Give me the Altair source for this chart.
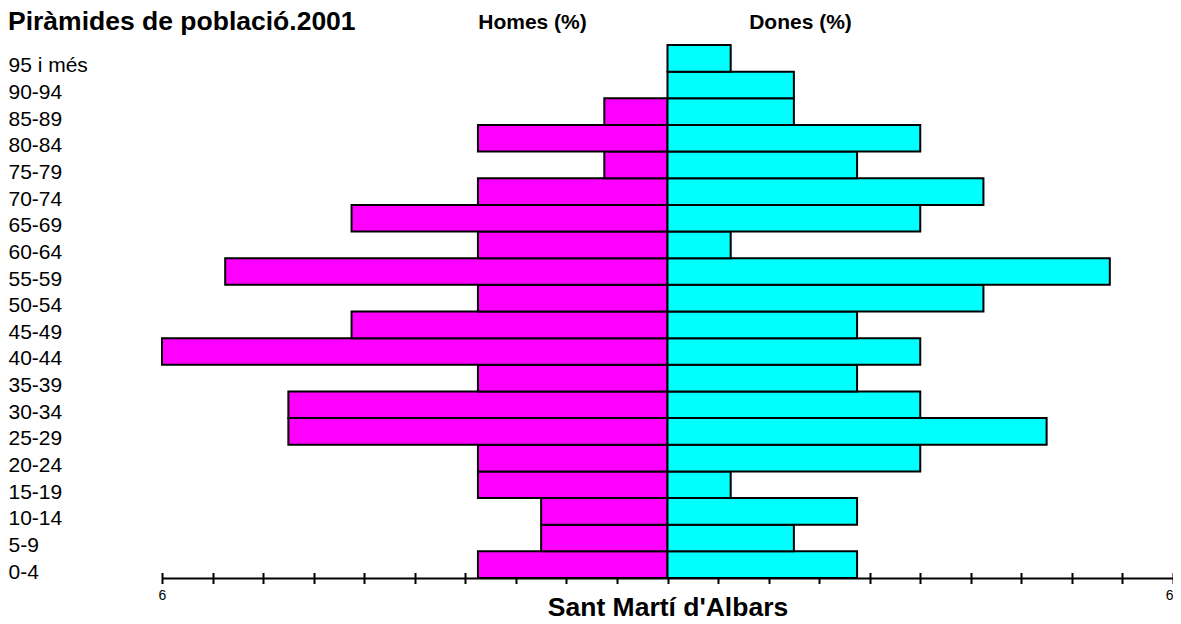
import altair as alt
import pandas as pd

ages = ["0-4", "5-9", "10-14", "15-19", "20-24", "25-29", "30-34", "35-39",
        "40-44", "45-49", "50-54", "55-59", "60-64", "65-69", "70-74",
        "75-79", "80-84", "85-89", "90-94", "95 i més"]
homes = [2.25, 1.5, 1.5, 2.25, 2.25, 4.5, 4.5, 2.25, 6.0, 3.75, 2.25, 5.25,
         2.25, 3.75, 2.25, 0.75, 2.25, 0.75, 0.0, 0.0]
dones = [2.25, 1.5, 2.25, 0.75, 3.0, 4.5, 3.0, 2.25, 3.0, 2.25, 3.75, 5.25,
         0.75, 3.0, 3.75, 2.25, 3.0, 1.5, 1.5, 0.75]
tick_values = [round(-6 + 0.6 * i, 2) for i in range(21)]

rows = []
for a, h, d in zip(ages, homes, dones):
    if h > 0:
        rows.append({"age": a, "sex": "Homes", "value": -h})
    if d > 0:
        rows.append({"age": a, "sex": "Dones", "value": d})
df = pd.DataFrame(rows)

FONT = "Liberation Sans"
W, H = 1011, 533

xscale = alt.Scale(domain=[-6, 6], nice=False, zero=True)
yenc = alt.Y("age:N", sort=ages[::-1],
             scale=alt.Scale(paddingInner=0, paddingOuter=0),
             axis=alt.Axis(title=None, domain=False, ticks=False, tickSize=0,
                           labelAlign="left", labelPadding=154,
                           labelOffset=8, labelFontSize=21, labelFont=FONT,
                           labelColor="black", labelBaseline="middle"))

bars = alt.Chart(df).mark_bar(stroke="black", strokeWidth=2).encode(
    x=alt.X("value:Q", scale=xscale,
            axis=alt.Axis(orient="bottom", values=tick_values,
                          labelExpr="abs(datum.value) > 5.99 ? '6' : ''",
                          labelAlign={"condition": {"test": "datum.value > 5.99", "value": "right"},
                                      "value": "center"},
                          ticks=False, grid=False, domainWidth=2,
                          domainColor="black", labelFontSize=14,
                          labelFont=FONT, labelColor="black", labelPadding=10,
                          labelFlush=False, labelOverlap=False,
                          title="Sant Martí d'Albars", titleFont=FONT,
                          titleFontSize=26.5, titleFontWeight="bold",
                          titleColor="black", titleBaseline="alphabetic",
                          titleY=37)),
    y=yenc,
    color=alt.Color("sex:N",
                    scale=alt.Scale(domain=["Homes", "Dones"],
                                    range=["#ff00ff", "#00ffff"]),
                    legend=None),
)

ticks_layer = alt.Chart(df).mark_bar(opacity=0).encode(
    x=alt.X("value:Q", scale=xscale,
            axis=alt.Axis(orient="bottom", values=tick_values, offset=-5.5,
                          tickSize=11, tickWidth=2, tickColor="black",
                          domain=False, labels=False, grid=False, title=None)),
    y=alt.Y("age:N", sort=ages[::-1], axis=None),
)

one = pd.DataFrame({"k": [0]})
title_txt = alt.Chart(one).mark_text(
    text="Piràmides de població.2001", font=FONT, fontSize=26.5,
    fontWeight="bold", align="left", baseline="alphabetic", color="black"
).encode(x=alt.value(-154), y=alt.value(-15.5))
homes_txt = alt.Chart(one).mark_text(
    text="Homes (%)", font=FONT, fontSize=21, fontWeight="bold",
    align="center", baseline="alphabetic", color="black"
).encode(x=alt.value(370.5), y=alt.value(-16))
dones_txt = alt.Chart(one).mark_text(
    text="Dones (%)", font=FONT, fontSize=21, fontWeight="bold",
    align="center", baseline="alphabetic", color="black"
).encode(x=alt.value(638.5), y=alt.value(-16))

chart = alt.layer(bars, ticks_layer, title_txt, homes_txt, dones_txt).resolve_axis(
    x="independent", y="independent"
).properties(
    width=W, height=H,
    background="white",
    autosize=alt.AutoSizeParams(type="none"),
    padding={"left": 154, "top": 37, "right": 0, "bottom": 44},
).configure_view(strokeWidth=0, stroke="transparent")

chart.save("out.html", embed_options={"renderer": "svg", "actions": False})
